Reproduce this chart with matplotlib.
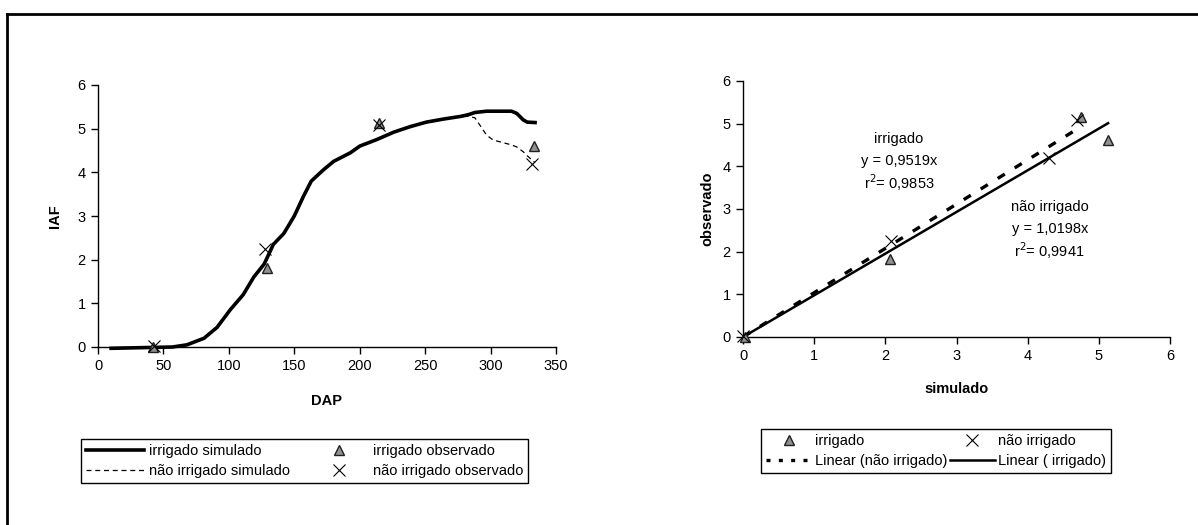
import numpy as np
import matplotlib
matplotlib.use("Agg")
import matplotlib.pyplot as plt
from matplotlib.lines import Line2D

plt.rcParams['font.family'] = ['Liberation Sans', 'DejaVu Sans']
plt.rcParams['font.size'] = 10.5

# simulated LAI (IAF) over days after planting (DAP)
dap_sim = [10, 57, 68, 81, 91, 101, 111, 119, 127, 134, 142, 150, 157, 163, 172,
           180, 193, 200, 213, 226, 239, 251, 264, 277, 283, 288, 297, 302, 312,
           316, 320, 325, 328, 334]
iaf_irr_sim = [-0.03, 0.0, 0.05, 0.2, 0.45, 0.85, 1.2, 1.6, 1.9, 2.35, 2.6, 3.0,
               3.45, 3.8, 4.05, 4.25, 4.45, 4.6, 4.75, 4.92, 5.05, 5.15, 5.22, 5.28,
               5.32, 5.37, 5.4, 5.4, 5.4, 5.4, 5.35, 5.2, 5.15, 5.14]
iaf_nirr_sim = [-0.03, 0.0, 0.05, 0.2, 0.45, 0.85, 1.2, 1.6, 1.9, 2.35, 2.6, 3.0,
                3.45, 3.8, 4.05, 4.25, 4.45, 4.6, 4.75, 4.92, 5.05, 5.15, 5.22, 5.28,
                5.28, 5.25, 4.85, 4.74, 4.66, 4.63, 4.58, 4.47, 4.38, 4.22]

# observed
dap_irr_obs = [42, 129, 215, 333]
iaf_irr_obs = [0.0, 1.82, 5.12, 4.6]
dap_nirr_obs = [43, 128, 215, 332]
iaf_nirr_obs = [0.02, 2.25, 5.08, 4.2]

# simulated vs observed
sim_irr = [0.03, 2.07, 4.75, 5.13]
obs_irr = [0.0, 1.82, 5.15, 4.62]
sim_nirr = [0.0, 2.08, 4.3, 4.7]
obs_nirr = [0.02, 2.25, 4.2, 5.08]

# regression text blocks
txt_irr = ['irrigado', 'y = 0,9519x', 'r$^2$= 0,9853']
txt_nirr = ['não irrigado', 'y = 1,0198x', 'r$^2$= 0,9941']

W, H = 1198, 525
fig = plt.figure(figsize=(W / 100, H / 100), dpi=100)

# page frame (top and left only)
fig.add_artist(Line2D([7 / W, 7 / W], [0, 1 - 14 / H], color='black', lw=2))
fig.add_artist(Line2D([7 / W, 1], [1 - 14 / H, 1 - 14 / H], color='black', lw=2))

tri_kw = dict(marker='^', color='#909090', markeredgecolor='#202020',
              markersize=6.5, markeredgewidth=1, linestyle='none')
x_kw = dict(marker='x', color='black', markersize=8, markeredgewidth=0.8,
            linestyle='none')


def style_axes(ax):
    for s in ['top', 'right']:
        ax.spines[s].set_visible(False)
    for s in ['left', 'bottom']:
        ax.spines[s].set_linewidth(1)
    ax.tick_params(direction='out', length=5, width=1, labelsize=10.5, pad=4)


# ---- left: IAF over time ----
ax1 = fig.add_axes([98 / W, 1 - 347 / H, (556 - 98) / W, (347 - 85) / H])
ax1.plot(dap_sim, iaf_nirr_sim, color='black', lw=0.9, ls=(0, (4, 3)),
         zorder=2, clip_on=False)
ax1.plot(dap_sim, iaf_irr_sim, color='black', lw=2.6, zorder=3, clip_on=False)
ax1.plot(dap_irr_obs, iaf_irr_obs, zorder=4, clip_on=False, **tri_kw)
ax1.plot(dap_nirr_obs, iaf_nirr_obs, zorder=4, clip_on=False, **x_kw)
ax1.set_xlim(0, 350)
ax1.set_ylim(0, 6)
ax1.set_xticks(range(0, 351, 50))
ax1.set_yticks(range(0, 7))
ax1.set_xlabel('DAP', fontweight='bold', labelpad=15)
ax1.set_ylabel('IAF', fontweight='bold', labelpad=11)
style_axes(ax1)

h1 = [Line2D([], [], color='black', lw=2.6),
      Line2D([], [], color='black', lw=0.9, ls=(0, (4, 3))),
      Line2D([], [], **tri_kw),
      Line2D([], [], **x_kw)]
l1 = ['irrigado simulado', 'não irrigado simulado',
      'irrigado observado', 'não irrigado observado']
leg1 = fig.legend(h1, l1, ncol=2, loc='upper left',
                  bbox_to_anchor=(81 / W, 1 - 439 / H), borderaxespad=0,
                  fancybox=False, edgecolor='black', framealpha=1,
                  handlelength=4.0, handletextpad=0.3, columnspacing=1.4,
                  labelspacing=0.4, borderpad=0.35, fontsize=10.5)
leg1.get_frame().set_linewidth(1)

# ---- right: simulated vs observed ----
ax2 = fig.add_axes([743 / W, 1 - 337 / H, (1170 - 743) / W, (337 - 81) / H])

# linear fits through origin
b_irr = np.dot(sim_irr, obs_irr) / np.dot(sim_irr, sim_irr)
b_nirr = np.dot(sim_nirr, obs_nirr) / np.dot(sim_nirr, sim_nirr)
xi = np.array([0, max(sim_irr)])
xn = np.array([0, max(sim_nirr)])
ax2.plot(xn, b_nirr * xn, color='black', lw=2.4, ls=(0, (2.5, 3.5)), zorder=2)
ax2.plot(xi, b_irr * xi, color='black', lw=1.8, zorder=3)
ax2.plot(sim_irr, obs_irr, zorder=4, clip_on=False, **tri_kw)
ax2.plot(sim_nirr, obs_nirr, zorder=4, clip_on=False, **x_kw)
ax2.set_xlim(0, 6)
ax2.set_ylim(0, 6)
ax2.set_xticks(range(0, 7))
ax2.set_yticks(range(0, 7))
ax2.set_xlabel('simulado', fontweight='bold', labelpad=13)
ax2.set_ylabel('observado', fontweight='bold', labelpad=6)
style_axes(ax2)

for t, yy in zip(txt_irr, [4.63, 4.12, 3.62]):
    ax2.text(2.19, yy, t, ha='center', va='center', fontsize=10.5)
for t, yy in zip(txt_nirr, [3.05, 2.52, 2.03]):
    ax2.text(4.31, yy, t, ha='center', va='center', fontsize=10.5)

h2 = [Line2D([], [], **tri_kw),
      Line2D([], [], color='black', lw=2.4, ls=(0, (1.2, 2.5))),
      Line2D([], [], **x_kw),
      Line2D([], [], color='black', lw=1.8)]
l2 = ['irrigado', 'Linear (não irrigado)', 'não irrigado', 'Linear ( irrigado)']
leg2 = fig.legend(h2, l2, ncol=2, loc='upper left',
                  bbox_to_anchor=(761 / W, 1 - 429 / H), borderaxespad=0,
                  fancybox=False, edgecolor='black', framealpha=1,
                  handlelength=3.1, handletextpad=0.25, columnspacing=0.15,
                  labelspacing=0.4, borderpad=0.35, fontsize=10.5)
leg2.get_frame().set_linewidth(1)

fig.savefig('out.png', dpi=100)
